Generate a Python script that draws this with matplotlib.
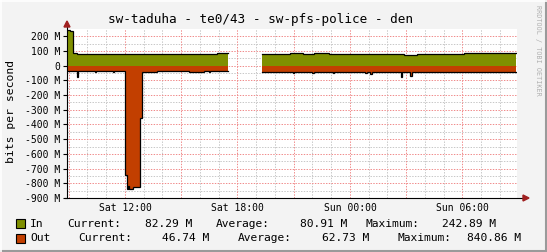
import numpy as np
import matplotlib
matplotlib.use("Agg")
import matplotlib.pyplot as plt
from matplotlib.patches import Rectangle, Polygon
from matplotlib.lines import Line2D

# ---------------- data (hours since Sat 00:00, values in Mbit/s) ----------------
nan = np.nan
in_time = [8.91, 9.07, 9.23, 9.44, 9.62, 9.9, 10.1, 10.25, 10.5, 10.7, 11.05, 11.3, 11.5, 11.9,
           12.3, 12.6, 13.0, 13.3, 13.5, 13.8, 14.2, 14.6, 14.9, 15.2, 15.5, 15.9, 16.3, 16.6,
           16.9, 17.2, 17.51,
           19.29, 20.8, 21.5, 22.1, 22.9, 23.5, 24.1, 24.6, 25.3, 26.0, 26.9, 27.6, 28.7, 29.3,
           30.1, 31.2, 32.84]
in_mbps = [243, 236, 84, 78, 76, 77, 79, 77, 76, 77, 79, 77, 78, 77,
           78, 77, 78, 77, 79, 78, 78, 80, 79, 79, 80, 80, 81, 80,
           83, 85, nan,
           82, 86, 82, 88, 82, 80, 78, 79, 77, 78, 75, 76, 78, 79,
           84, 83, 84]

out_time = [8.91, 9.42, 9.51, 10.0, 10.4, 10.47, 11.1, 11.35, 11.4, 11.7, 12.0, 12.09, 12.15,
            12.2, 12.44, 12.8, 12.92, 13.6, 13.7, 14.5, 15.3, 15.4, 16.2, 16.5, 16.55, 17.0, 17.51,
            19.29, 20.3, 20.4, 20.96, 21.02, 21.5, 21.6, 22.0, 22.06, 23.09, 23.15, 23.45, 24.0,
            24.06, 24.8, 24.9, 25.07, 25.17, 25.5, 26.7, 26.75, 27.2, 27.3, 27.9, 28.05, 28.8,
            28.9, 29.5, 30.8, 30.86, 32.84]
out_mbps = [36, 75, 38, 36, 45, 37, 36, 44, 37, 38, 745, 842, 815,
            840, 827, 355, 40, 44, 37, 36, 38, 42, 37, 45, 38, 38, nan,
            41, 46, 41, 47, 41, 46, 41, 48, 41, 52, 41, 40, 46,
            41, 52, 41, 59, 41, 40, 79, 40, 70, 41, 46, 41, 40,
            45, 42, 40, 46, 42]

in_stats = [82.29, 80.91, 242.89]
out_stats = [46.74, 62.73, 840.86]

tick_hours = [12, 18, 24, 30]
tick_labels = ["Sat 12:00", "Sat 18:00", "Sun 00:00", "Sun 06:00"]
y_ticks = [200, 100, 0, -100, -200, -300, -400, -500, -600, -700, -800, -900]

title = "sw-taduha - te0/43 - sw-pfs-police - den"

# ---------------- helpers ----------------
def steps(t, v):
    xs, ys = [], []
    for i in range(len(t) - 1):
        xs += [t[i], t[i + 1]]
        ys += [v[i], v[i]]
    return np.array(xs), np.array(ys, dtype=float)

W, H = 547, 252
MONO = "DejaVu Sans Mono"
IN_C = "#7f8f00"
OUT_C = "#c23f00"

fig = plt.figure(figsize=(W / 100, H / 100), dpi=100, facecolor="#f3f3f3")
x0, x1, ytop, ybot = 67, 517, 28.9, 198
ax = fig.add_axes([x0 / W, (H - ybot) / H, (x1 - x0) / W, (ybot - ytop) / H])
ax.set_facecolor("white")
xmin, xmax = 8.9067, 32.9067
ax.set_xlim(xmin, xmax)
ax.set_ylim(-900, 250)

# grid
dots = (0, (1.39, 1.39))
for h in np.arange(9, 33, 1):
    if h % 3 == 0:
        continue
    ax.axvline(h, color="#c8c8c8", lw=0.72, ls=dots, zorder=1)
for yv in np.arange(-850, 250, 100):
    ax.axhline(yv, color="#c8c8c8", lw=0.72, ls=dots, zorder=1)
for h in np.arange(9, 33, 3):
    ax.axvline(h, color="#f08c8c", lw=0.72, ls=dots, zorder=1.1)
for yv in y_ticks:
    ax.axhline(yv, color="#f08c8c", lw=0.72, ls=dots, zorder=1.1)

# data
xi, yi = steps(in_time, in_mbps)
xo, yo = steps(out_time, out_mbps)
yo = -yo
ax.fill_between(xi, 0, yi, color=IN_C, lw=0, zorder=2)
ax.fill_between(xo, 0, yo, color=OUT_C, lw=0, zorder=2)
ax.plot(xi, yi, color="black", lw=0.9, zorder=3, solid_joinstyle="miter")
ax.plot(xo, yo, color="black", lw=0.9, zorder=3, solid_joinstyle="miter")

# spines / axes
for s in ax.spines.values():
    s.set_visible(False)
ax.set_xticks(tick_hours)
ax.set_xticklabels(tick_labels, family=MONO, fontsize=7.05)
ax.set_xticks(np.arange(9, 33, 3), minor=True)
ax.set_yticks(y_ticks)
ax.set_yticklabels([f"{v} M" if v != 0 else "0" for v in y_ticks], family=MONO, fontsize=7.05)
ax.tick_params(axis="x", length=0, pad=3.5)
ax.tick_params(axis="x", which="minor", length=0)
ax.tick_params(axis="y", length=3, width=0.8, pad=2, direction="out")

# axis lines with arrows
ax.add_line(Line2D([xmin, xmin], [-900, 262], color="black", lw=0.8, clip_on=False, zorder=4))
ax.add_line(Line2D([xmin - 0.1, xmax + 0.45], [-900, -900], color="black", lw=0.8, clip_on=False, zorder=4))
def fig_px(x, y):
    return (x / W, 1 - y / H)
arrow_c = "#a02020"
fig.patches.append(Polygon([fig_px(64, 27), fig_px(70, 27), fig_px(67, 21)], closed=True,
                           transform=fig.transFigure, color=arrow_c, zorder=5))
fig.patches.append(Polygon([fig_px(523, 195), fig_px(523, 201), fig_px(529, 198)], closed=True,
                           transform=fig.transFigure, color=arrow_c, zorder=5))

# texts
fig.text(261 / W, 1 - 19 / H, title, ha="center", va="center", family=MONO, fontsize=9.1)
fig.text(11 / W, 1 - 111 / H, "bits per second", rotation=90, ha="center", va="center",
         family=MONO, fontsize=8.2)
fig.text(538 / W, 1 - 5 / H, "RRDTOOL / TOBI OETIKER", rotation=270, ha="center", va="top",
         family=MONO, fontsize=4.9, color="#b0b0b0")

# legend
rows = [
    (223.7, IN_C, "In", [(67.3, "Current:"), (145, f"{in_stats[0]:.2f} M"), (216, "Average:"),
                          (300, f"{in_stats[1]:.2f} M"), (365, "Maximum:"), (442, f"{in_stats[2]:.2f} M")]),
    (238.3, OUT_C, "Out", [(78, "Current:"), (162, f"{out_stats[0]:.2f} M"), (238, "Average:"),
                            (322, f"{out_stats[1]:.2f} M"), (398, "Maximum:"), (467, f"{out_stats[2]:.2f} M")]),
]
for yc, col, name, parts in rows:
    fig.patches.append(Rectangle(((15.5) / W, 1 - (yc + 4.5) / H), 9 / W, 9 / H,
                                 transform=fig.transFigure, facecolor=col, edgecolor="black", lw=0.8))
    fig.text(30 / W, 1 - yc / H, name, ha="left", va="center", family=MONO, fontsize=8.1)
    for xp, s in parts:
        fig.text(xp / W, 1 - yc / H, s, ha="left", va="center", family=MONO, fontsize=8.1)

# frame
fig.add_artist(Line2D([545.5 / W, 545.5 / W], [0, 1], transform=fig.transFigure, color="#9a9a9a", lw=1.5))
fig.add_artist(Line2D([0, 1], [1.2 / H, 1.2 / H], transform=fig.transFigure, color="#9a9a9a", lw=1.5))
fig.add_artist(Line2D([0.8 / W, 0.8 / W], [0, 1], transform=fig.transFigure, color="#ffffff", lw=1.2))
fig.add_artist(Line2D([0, 1], [1 - 0.8 / H, 1 - 0.8 / H], transform=fig.transFigure, color="#ffffff", lw=1.2))

fig.savefig("out.png", dpi=100, facecolor=fig.get_facecolor())
